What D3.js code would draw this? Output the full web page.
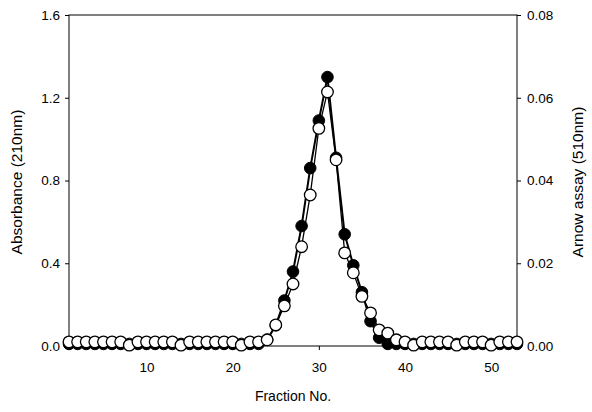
<!DOCTYPE html>
<html><head><meta charset="utf-8">
<script src="https://cdn.jsdelivr.net/npm/d3@7"></script>
<style>body{margin:0;background:#fff}svg{display:block}text{font-family:"Liberation Sans",Arial,sans-serif;fill:#000}</style>
</head><body><svg id="c" width="592" height="412"></svg>
<script>
const fractions = [1,2,3,4,5,6,7,8,9,10,11,12,13,14,15,16,17,18,19,20,21,22,23,24,25,26,27,28,29,30,31,32,33,34,35,36,37,38,39,40,41,42,43,44,45,46,47,48,49,50,51,52,53];
const absorbance = [0.01,0.01,0.01,0.01,0.01,0.01,0.01,0.01,0.01,0.01,0.01,0.01,0.01,0.01,0.01,0.01,0.01,0.01,0.01,0.01,0.01,0.01,0.01,0.03,0.10,0.22,0.36,0.58,0.86,1.09,1.30,0.91,0.54,0.39,0.26,0.12,0.04,0.01,0.01,0.01,0.01,0.01,0.01,0.01,0.01,0.01,0.01,0.01,0.01,0.01,0.01,0.01,0.01];
const arnow = [0.001,0.001,0.001,0.001,0.001,0.001,0.001,0.0002,0.001,0.001,0.001,0.001,0.001,0.0002,0.001,0.001,0.001,0.001,0.001,0.001,0.0002,0.001,0.001,0.0015,0.0051,0.0097,0.015,0.024,0.0365,0.0526,0.0614,0.045,0.0225,0.0177,0.012,0.008,0.0039,0.0031,0.0015,0.001,0.0002,0.001,0.001,0.001,0.001,0.0002,0.001,0.001,0.001,0.0002,0.001,0.001,0.001];
const xTicks = [10,20,30,40,50];
const yLeftTicks = [0,0.4,0.8,1.2,1.6];
const yRightTicks = [0,0.02,0.04,0.06,0.08];

const svg = d3.select("#c");
const L = 69, R = 517, T = 15, B = 346;
const x = d3.scaleLinear().domain([1,53]).range([L,R]);
const yL = d3.scaleLinear().domain([0,1.6]).range([B,T]);
const yR = d3.scaleLinear().domain([0,0.08]).range([B,T]);

svg.append("rect").attr("x",L).attr("y",T).attr("width",R-L).attr("height",B-T)
  .attr("fill","none").attr("stroke","#000").attr("stroke-width",1);

const gx = svg.append("g").attr("transform",`translate(0,${B})`)
  .call(d3.axisBottom(x).tickValues(xTicks).tickFormat(d3.format("d")).tickSize(4).tickPadding(12));
const gl = svg.append("g").attr("transform",`translate(${L},0)`)
  .call(d3.axisLeft(yL).tickValues(yLeftTicks).tickFormat(d3.format(".1f")).tickSize(4).tickPadding(5));
const gr = svg.append("g").attr("transform",`translate(${R},0)`)
  .call(d3.axisRight(yR).tickValues(yRightTicks).tickFormat(d3.format(".2f")).tickSize(4).tickPadding(6));
[gx,gl,gr].forEach(g=>{
  g.select(".domain").remove();
  g.selectAll("text").style("font-size","13.5px").style("font-family",'"Liberation Sans",Arial,sans-serif');
  g.selectAll("line").attr("stroke","#000");
});

const lineA = d3.line().x((d,i)=>x(fractions[i])).y(d=>yL(d));
const lineB = d3.line().x((d,i)=>x(fractions[i])).y(d=>yR(d));
svg.append("path").datum(absorbance).attr("d",lineA).attr("fill","none").attr("stroke","#000").attr("stroke-width",2);
svg.append("path").datum(arnow).attr("d",lineB).attr("fill","none").attr("stroke","#000").attr("stroke-width",1.3);

svg.append("g").selectAll("circle").data(absorbance).join("circle")
  .attr("cx",(d,i)=>x(fractions[i])).attr("cy",d=>yL(d)).attr("r",5.8)
  .attr("fill","#000").attr("stroke","#000").attr("stroke-width",1);
svg.append("g").selectAll("circle").data(arnow).join("circle")
  .attr("cx",(d,i)=>x(fractions[i])).attr("cy",d=>yR(d)).attr("r",5.8)
  .attr("fill","#fff").attr("stroke","#000").attr("stroke-width",1.3);

svg.append("text").attr("x",293).attr("y",401).attr("text-anchor","middle").style("font-size","14px").text("Fraction No.");
svg.append("text").attr("transform","translate(22,182) rotate(-90)").attr("text-anchor","middle").style("font-size","15.5px").text("Absorbance (210nm)");
svg.append("text").attr("transform","translate(583,182) rotate(-90)").attr("text-anchor","middle").style("font-size","15.5px").text("Arnow assay (510nm)");
</script></body></html>
